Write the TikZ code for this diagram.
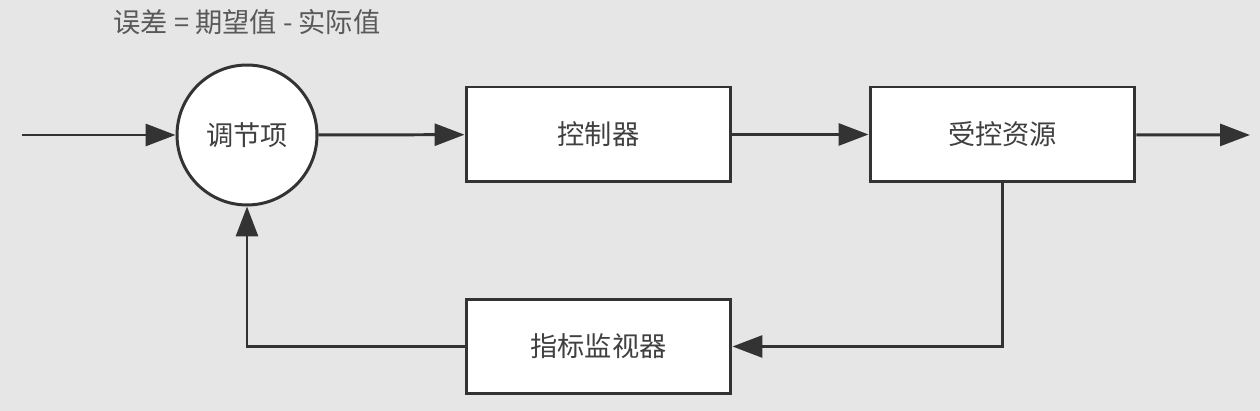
\documentclass[tikz,border=0pt]{standalone}
\usepackage{fontspec}
\newfontfamily\cjk{Noto Sans CJK SC}
\usetikzlibrary{arrows.meta}
\definecolor{bgcol}{HTML}{E6E6E6}
\definecolor{linecol}{HTML}{333333}
\definecolor{txtcol}{HTML}{404040}
\tikzset{
  block/.style={draw=linecol, fill=white, line width=1.7pt, minimum width=5.3cm, minimum height=1.9cm, font=\cjk\fontsize{15.5}{18}\selectfont, text=txtcol},
  sumnode/.style={circle, draw=linecol, fill=white, line width=1.7pt, minimum size=2.8cm, inner sep=0pt, font=\cjk\fontsize{15.5}{18}\selectfont, text=txtcol},
  flow/.style={draw=linecol, line width=1.7pt, -{Triangle[length=0.6cm, width=0.44cm]}}
}

\begin{document}
\begin{tikzpicture}[x=0.02cm, y=-0.02cm]
				\fill[bgcol] (0,0) rectangle (1260,411);
				
				\node[font=\cjk\fontsize{15.5}{18}\selectfont, text=black!65] (errlabel) at (247,22) {误差 = 期望值 - 实际值};
				
				\coordinate (in) at (22,135);
				\coordinate (out) at (1250,135);
				\node[sumnode] (reg) at (247,135) {调节项};
				\node[block] (ctrl) at (598.5,134.5) {控制器};
				\node[block] (res) at (1002.5,134.5) {受控资源};
				\node[block] (mon) at (598.5,346.5) {指标监视器};
				
				\draw[flow] (in) -- (reg);
				\draw[flow] (reg) -- (ctrl);
				\draw[flow] (ctrl) -- (res);
				\draw[flow] (res) -- (out);
				
				% feedback loop
				\draw[flow] (res.south) |- (mon.east);
				\draw[flow] (mon.west) -| (reg.south);
			\end{tikzpicture}
\end{document}
